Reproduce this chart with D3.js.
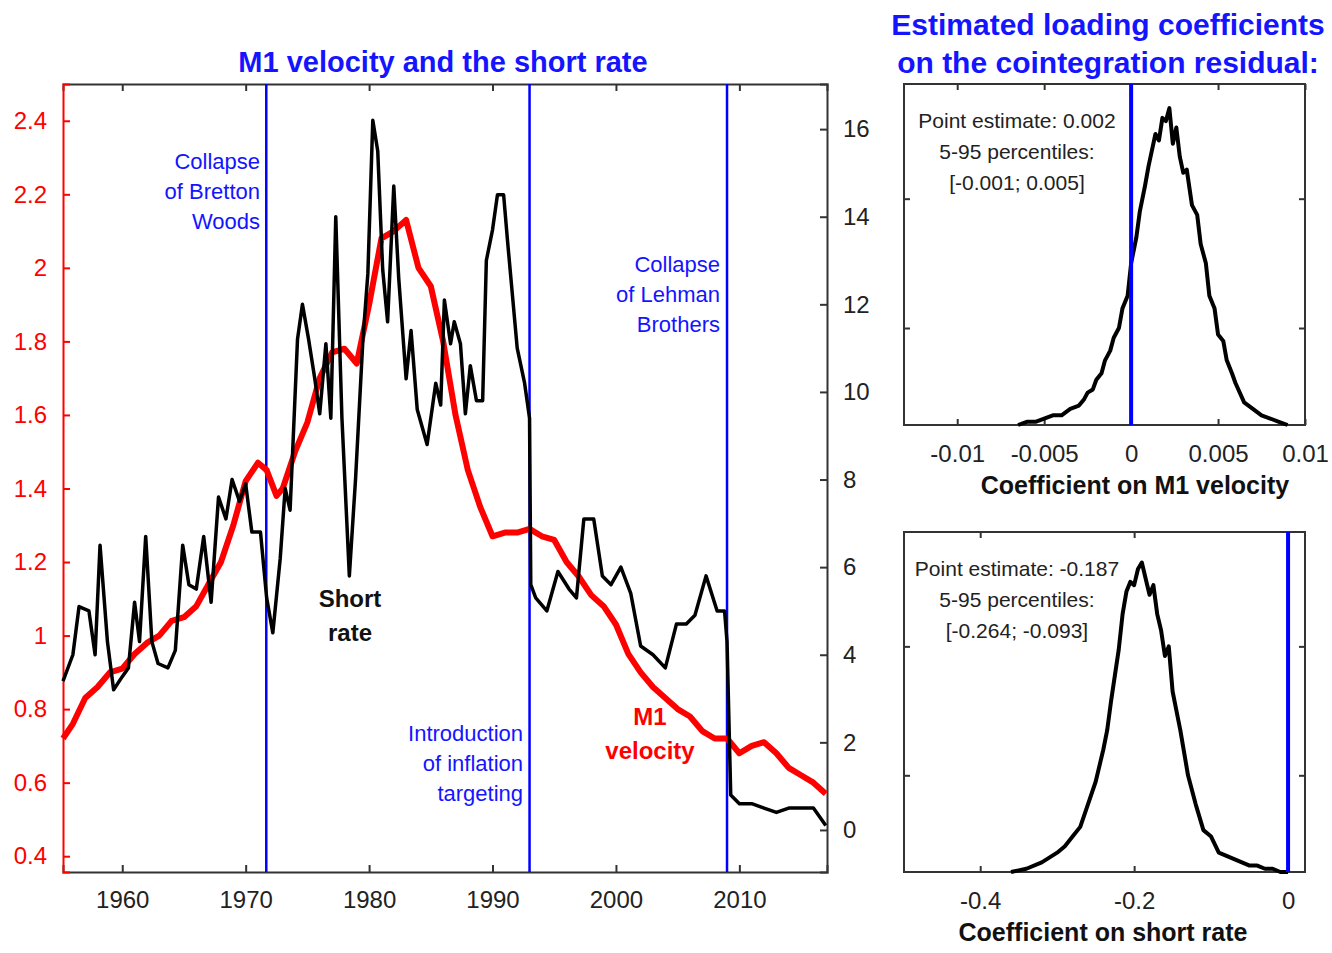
<!DOCTYPE html>
<html><head><meta charset="utf-8">
<script src="https://cdn.jsdelivr.net/npm/d3@7"></script>
<style>body{margin:0;background:#fff}text{font-family:"Liberation Sans",Arial,sans-serif}</style>
</head><body><svg id="c" width="1332" height="953"></svg>
<script>
// M1 velocity (left axis)
const velYears = [1955.2,1956,1957,1958,1959,1960,1961,1962,1963,1964,1965,1966,1967,1968,1969,1970,1971,1971.7,1972.5,1973,1974,1975,1976,1977,1978,1979,1980,1981,1982,1983,1984,1985,1986,1987,1988,1989,1990,1991,1992,1993,1994,1995,1996,1997,1998,1999,2000,2001,2002,2003,2004,2005,2006,2007,2008,2009,2010,2011,2012,2013,2014,2015,2016,2017];
const velVals = [0.72,0.76,0.83,0.86,0.9,0.91,0.95,0.98,1.0,1.04,1.05,1.08,1.14,1.2,1.3,1.42,1.47,1.45,1.38,1.4,1.5,1.58,1.7,1.77,1.78,1.74,1.9,2.08,2.1,2.13,2.0,1.95,1.8,1.6,1.45,1.35,1.27,1.28,1.28,1.29,1.27,1.26,1.2,1.16,1.11,1.08,1.03,0.95,0.9,0.86,0.83,0.8,0.78,0.74,0.72,0.72,0.68,0.7,0.71,0.68,0.64,0.62,0.6,0.57];
// short rate (right axis)
const rateYears = [1955.2,1956,1956.5,1957.3,1957.8,1958.2,1958.8,1959.3,1960,1960.5,1961,1961.4,1961.9,1962.4,1962.9,1963.7,1964.3,1964.9,1965.4,1966,1966.6,1967.2,1967.8,1968.4,1968.9,1969.5,1970,1970.5,1971.2,1971.7,1972.2,1972.8,1973.2,1973.6,1974.2,1974.6,1975.1,1975.6,1976,1976.5,1976.9,1977.3,1977.8,1978.4,1978.9,1979.5,1979.9,1980.3,1980.7,1981.1,1981.5,1982,1982.4,1983,1983.4,1983.9,1984.7,1985.4,1985.8,1986.1,1986.6,1986.9,1987.4,1987.8,1988.2,1988.7,1989.2,1989.5,1990,1990.4,1990.9,1991.2,1992,1992.6,1993,1993.1,1993.5,1994.4,1995.3,1996.2,1996.8,1997.4,1998.2,1998.9,1999.6,2000.4,2001.2,2002,2003,2004,2004.9,2005.7,2006.4,2007.3,2008.2,2008.8,2009,2009.3,2010,2011,2012,2013,2014,2015,2016,2017];
const rateVals = [3.4,4.0,5.1,5.0,4.0,6.5,4.3,3.2,3.5,3.7,5.2,4.3,6.7,4.3,3.8,3.7,4.1,6.5,5.6,5.5,6.7,5.2,7.6,7.1,8.0,7.5,7.9,6.8,6.8,5.3,4.5,6.2,7.8,7.3,11.2,12.0,11.2,10.3,9.5,11.1,9.4,14.0,9.4,5.8,8.0,11.2,12.7,16.2,15.5,12.8,11.6,14.7,12.6,10.3,11.4,9.6,8.8,10.2,9.7,12.1,11.1,11.6,11.1,9.5,10.6,9.8,9.8,13.0,13.7,14.5,14.5,13.5,11.0,10.2,9.4,5.6,5.3,5.0,5.9,5.5,5.3,7.1,7.1,5.8,5.6,6.0,5.4,4.2,4.0,3.7,4.7,4.7,4.9,5.8,5.0,5.0,4.3,0.8,0.6,0.6,0.5,0.4,0.5,0.5,0.5,0.1];
const eventYears = [1971.67,1993.0,2009.0];
const xTicks = [1960,1970,1980,1990,2000,2010];
const velTicks = [0.4,0.6,0.8,1,1.2,1.4,1.6,1.8,2,2.2,2.4];
const rateTicks = [0,2,4,6,8,10,12,14,16];
// posterior densities (relative height)
const h1X = [-0.0065,-0.006,-0.0055,-0.005,-0.0045,-0.004,-0.0035,-0.003,-0.0027,-0.0025,-0.0022,-0.002,-0.0017,-0.0015,-0.0012,-0.001,-0.0007,-0.0005,-0.0002,0,0.0003,0.0005,0.0008,0.001,0.0012,0.0014,0.0016,0.0018,0.002,0.0022,0.0024,0.0026,0.0028,0.003,0.0032,0.0035,0.0038,0.004,0.0043,0.0045,0.0048,0.005,0.0053,0.0055,0.0058,0.006,0.0065,0.007,0.0075,0.008,0.0085,0.009];
const h1Y = [0.0,0.01,0.01,0.02,0.03,0.03,0.05,0.06,0.08,0.10,0.11,0.14,0.16,0.20,0.23,0.27,0.30,0.36,0.40,0.50,0.58,0.66,0.74,0.80,0.85,0.90,0.88,0.95,0.94,0.98,0.87,0.92,0.83,0.78,0.79,0.68,0.65,0.56,0.50,0.40,0.36,0.28,0.26,0.20,0.16,0.13,0.07,0.05,0.03,0.02,0.01,0.0];
const h2X = [-0.36,-0.34,-0.32,-0.3,-0.29,-0.28,-0.27,-0.26,-0.25,-0.24,-0.235,-0.23,-0.225,-0.22,-0.215,-0.21,-0.205,-0.2,-0.195,-0.19,-0.185,-0.18,-0.175,-0.17,-0.165,-0.16,-0.155,-0.15,-0.145,-0.14,-0.13,-0.12,-0.11,-0.1,-0.09,-0.08,-0.07,-0.06,-0.05,-0.04,-0.03,-0.02,-0.01,0];
const h2Y = [0.0,0.01,0.03,0.06,0.08,0.11,0.14,0.21,0.28,0.38,0.44,0.53,0.61,0.69,0.80,0.87,0.90,0.89,0.94,0.96,0.91,0.86,0.89,0.80,0.75,0.67,0.70,0.56,0.50,0.44,0.30,0.21,0.13,0.11,0.06,0.05,0.04,0.03,0.02,0.02,0.01,0.01,0.0,0.0];

const svg = d3.select("#c");
const blue = "#1414ff";
const hyph = d => String(d);  // plain hyphen minus like the original

// main chart
const m = {l:63, r:827, t:84, b:872};
const x = d3.scaleLinear().domain([1955.2,2017.1]).range([m.l,m.r]);
const yL = d3.scaleLinear().domain([0.357,2.5]).range([m.b,m.t]);
const yR = d3.scaleLinear().domain([-0.96,17.03]).range([m.b,m.t]);

svg.append("text").attr("x",443).attr("y",72).attr("text-anchor","middle")
  .attr("font-size",29).attr("font-weight","bold").attr("fill",blue).text("M1 velocity and the short rate");

const gx = svg.append("g").attr("transform",`translate(0,${m.b})`)
  .call(d3.axisBottom(x).tickValues(xTicks).tickFormat(d3.format("d")).tickSize(-7).tickPadding(19));
gx.selectAll("text").attr("font-size",24).attr("fill","#222");
const gxt = svg.append("g").attr("transform",`translate(0,${m.t})`)
  .call(d3.axisTop(x).tickValues(xTicks).tickFormat("").tickSize(-7));
const gl = svg.append("g").attr("transform",`translate(${m.l},0)`)
  .call(d3.axisLeft(yL).tickValues(velTicks).tickFormat(hyph).tickSize(-7).tickPadding(16));
gl.selectAll("text").attr("font-size",24).attr("fill","#f00");
gl.selectAll("line,path").attr("stroke","#f00").attr("stroke-width",2);
const gr = svg.append("g").attr("transform",`translate(${m.r},0)`)
  .call(d3.axisRight(yR).tickValues(rateTicks).tickSize(-7).tickPadding(16));
gr.selectAll("text").attr("font-size",24).attr("fill","#222");
[gx,gxt,gr].forEach(g=>g.selectAll("line,path").attr("stroke","#333").attr("stroke-width",2));

svg.selectAll(".ev").data(eventYears).join("line")
  .attr("x1",d=>x(d)).attr("x2",d=>x(d)).attr("y1",m.t).attr("y2",m.b)
  .attr("stroke","#0000ff").attr("stroke-width",2.5);

svg.append("path").datum(d3.zip(velYears,velVals))
  .attr("d",d3.line().x(d=>x(d[0])).y(d=>yL(d[1])))
  .attr("fill","none").attr("stroke","#f00").attr("stroke-width",6).attr("stroke-linejoin","round");
svg.append("path").datum(d3.zip(rateYears,rateVals))
  .attr("d",d3.line().x(d=>x(d[0])).y(d=>yR(d[1])))
  .attr("fill","none").attr("stroke","#000").attr("stroke-width",3.5).attr("stroke-linejoin","round");

function lines(xp, y0, dy, arr, anchor, size, fill, weight){
  arr.forEach((t,i)=>svg.append("text").attr("x",xp).attr("y",y0+i*dy).attr("text-anchor",anchor)
    .attr("font-size",size).attr("fill",fill).attr("font-weight",weight||"normal").text(t));
}
lines(260,169,30,["Collapse","of Bretton","Woods"],"end",22,blue);
lines(720,272,30,["Collapse","of Lehman","Brothers"],"end",22,blue);
lines(523,741,30,["Introduction","of inflation","targeting"],"end",22,blue);
lines(350,607,34,["Short","rate"],"middle",24,"#111","bold");
lines(650,725,34,["M1","velocity"],"middle",24,"#f00","bold");

// right titles
lines(1108,35,38,["Estimated loading coefficients","on the cointegration residual:"],"middle",30,blue,"bold");

function hist(box, dom, ticks, xs, ys, label, lx, notes){
  const hx = d3.scaleLinear().domain(dom).range([box.l,box.r]);
  const hy = d3.scaleLinear().domain([0,1.03]).range([box.b,box.t+8]);
  const g1 = svg.append("g").attr("transform",`translate(0,${box.b})`)
    .call(d3.axisBottom(hx).tickValues(ticks).tickFormat(hyph).tickSize(-6).tickPadding(20));
  g1.selectAll("text").attr("font-size",24).attr("fill","#222");
  const g2 = svg.append("g").attr("transform",`translate(0,${box.t})`).call(d3.axisTop(hx).tickValues(ticks).tickFormat("").tickSize(-6));
  const g3 = svg.append("g").attr("transform",`translate(${box.l},0)`).call(d3.axisLeft(hy).tickValues([0.3,0.7]).tickFormat("").tickSize(-6));
  const g4 = svg.append("g").attr("transform",`translate(${box.r},0)`).call(d3.axisRight(hy).tickValues([0.3,0.7]).tickFormat("").tickSize(-6));
  [g1,g2,g3,g4].forEach(g=>{g.select("path.domain").attr("stroke","none"); g.selectAll("line").attr("stroke","#333").attr("stroke-width",2);});
  svg.append("rect").attr("x",box.l).attr("y",box.t).attr("width",box.r-box.l).attr("height",box.b-box.t)
    .attr("fill","none").attr("stroke","#333").attr("stroke-width",2);
  svg.append("path").datum(d3.zip(xs,ys))
    .attr("d",d3.line().x(d=>hx(d[0])).y(d=>hy(d[1])))
    .attr("fill","none").attr("stroke","#000").attr("stroke-width",4).attr("stroke-linejoin","round");
  svg.append("line").attr("x1",hx(0)).attr("x2",hx(0)).attr("y1",box.t).attr("y2",box.b)
    .attr("stroke","#0000ff").attr("stroke-width",4);
  svg.append("text").attr("x",lx).attr("y",box.b+69).attr("text-anchor","middle")
    .attr("font-size",25).attr("font-weight","bold").attr("fill","#111").text(label);
  lines(box.l+113,box.t+44,31,notes,"middle",21,"#222");
}
hist({l:904,r:1305,t:84,b:425},[-0.01306,0.01],[-0.01,-0.005,0,0.005,0.01],h1X,h1Y,
  "Coefficient on M1 velocity",1135,["Point estimate: 0.002","5-95 percentiles:","[-0.001; 0.005]"]);
hist({l:904,r:1305,t:532,b:872},[-0.499,0.022],[-0.4,-0.2,0],h2X,h2Y,
  "Coefficient on short rate",1103,["Point estimate: -0.187","5-95 percentiles:","[-0.264; -0.093]"]);
</script></body></html>
